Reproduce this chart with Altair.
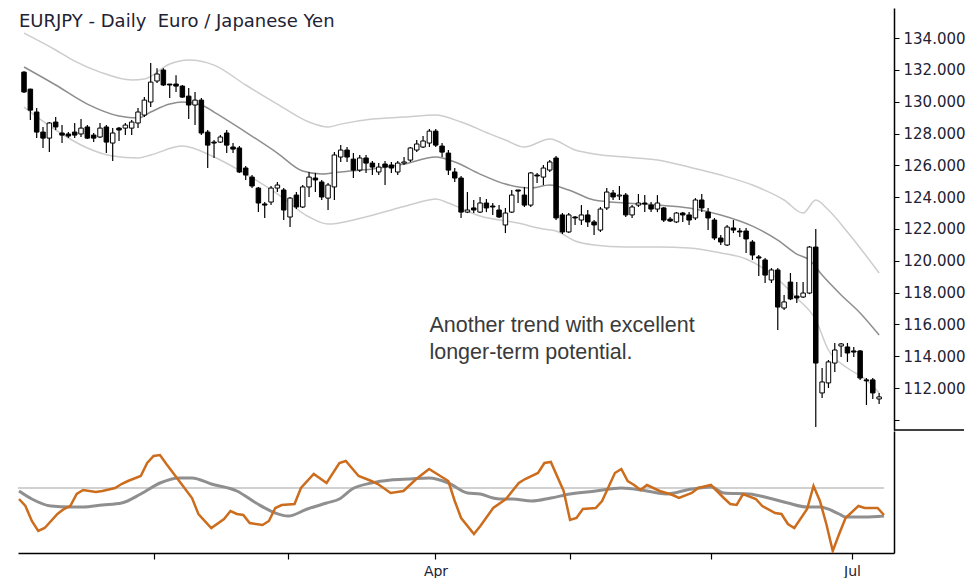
import altair as alt
import pandas as pd

# ---------------- data ----------------
opens = [131.86,130.79,129.35,128.09,127.71,128.72,128.03,127.97,128.09,127.97,
         128.41,127.90,127.78,128.41,127.40,128.34,128.34,128.34,128.66,129.16,
         129.98,131.30,131.99,131.11,131.11,130.98,130.35,129.79,130.10,128.09,
         127.46,127.46,128.03,127.15,127.09,125.83,125.26,124.57,123.57,123.69,
         124.57,124.45,122.75,124.13,123.38,124.64,125.20,124.95,123.94,124.64,
         126.52,126.96,126.39,125.70,126.46,126.14,125.58,126.08,126.02,125.58,
         126.14,126.33,126.96,127.15,127.40,128.15,127.21,126.77,125.58,125.20,
         123.06,123.32,123.06,123.63,123.44,123.19,122.25,123.06,124.45,124.13,
         123.50,125.39,125.26,125.70,126.46,122.88,121.81,122.75,122.56,122.88,
         122.44,121.93,123.32,124.26,124.07,124.13,122.88,123.50,123.63,123.50,
         123.25,123.32,122.62,122.44,123.00,122.88,122.69,123.82,123.06,122.56,
         121.43,120.99,122.06,121.87,121.87,121.18,120.24,120.05,118.79,119.42,
         117.03,118.66,117.78,117.72,117.97,120.86,111.69,112.32,113.57,114.64,
         114.58,114.33,114.33,112.51,112.51,111.31]
highs = [131.92,130.82,129.60,128.41,128.72,129.03,128.53,128.09,128.66,128.91,
         128.53,128.03,128.66,128.53,128.34,128.41,128.66,128.85,129.60,130.29,
         132.43,132.11,132.11,131.11,131.67,131.05,130.86,130.61,130.23,128.22,
         127.59,127.90,128.22,127.40,127.21,125.95,125.39,124.64,123.69,124.70,
         124.95,124.57,124.01,124.32,124.76,125.58,125.52,125.08,124.89,126.83,
         127.27,127.15,126.77,126.65,126.65,126.27,126.14,126.27,126.21,126.27,
         126.52,127.15,127.59,127.84,128.28,128.28,127.40,126.96,125.83,125.33,
         124.32,123.82,124.01,123.88,123.63,123.50,123.32,124.45,124.45,124.64,
         125.58,125.52,126.02,126.33,126.58,123.00,123.00,122.81,123.50,123.19,
         122.56,123.38,124.57,124.45,124.70,124.26,123.50,124.20,124.13,123.69,
         124.13,123.38,122.75,123.06,123.06,123.06,123.94,124.20,123.32,122.69,
         121.62,122.25,122.56,122.06,122.06,121.30,120.36,120.17,119.54,119.54,
         117.85,119.23,118.66,118.66,120.93,121.99,113.26,113.76,114.83,114.83,
         114.83,114.58,114.39,112.63,112.63,111.69]
lows = [130.54,128.85,127.71,127.09,126.83,128.22,127.40,127.71,127.71,127.78,
        127.65,127.46,127.71,126.77,126.27,127.53,127.90,127.90,128.34,129.03,
        129.66,131.17,130.98,130.23,130.61,130.23,128.91,128.53,127.90,125.83,
        126.46,127.40,126.77,126.77,125.52,125.08,124.57,123.06,122.69,123.50,
        124.32,122.56,122.12,123.25,123.32,124.01,124.32,123.82,123.19,123.82,
        126.21,126.21,125.20,125.58,125.52,125.39,125.39,124.76,125.52,125.39,
        126.02,126.21,126.83,127.09,127.15,127.15,126.52,125.39,124.95,122.69,
        123.00,123.00,123.00,123.06,122.88,122.69,121.74,123.00,123.63,123.38,
        123.38,124.89,124.76,125.58,122.56,121.68,121.74,122.25,122.25,122.12,
        121.62,121.81,123.19,123.82,123.82,122.75,122.69,123.38,123.06,123.06,
        123.06,122.44,122.44,122.37,122.44,122.25,122.56,123.06,121.93,121.30,
        120.99,120.93,121.74,121.49,120.49,120.05,119.04,118.60,118.60,115.65,
        116.90,117.53,117.34,117.66,117.90,109.55,111.37,112.00,113.01,113.95,
        113.64,113.95,112.51,110.93,111.31,111.00]
closes = [130.61,129.47,128.09,127.71,128.66,128.41,127.90,127.84,127.90,128.34,
          127.71,127.71,128.34,127.46,128.03,128.22,128.53,128.72,129.35,130.10,
          131.23,131.74,131.05,131.05,130.98,130.29,129.79,130.10,128.03,127.27,
          127.40,127.78,127.27,127.02,125.58,125.39,124.70,123.63,123.50,124.57,
          124.76,123.19,123.94,123.38,124.64,125.26,125.08,124.01,124.76,126.65,
          126.96,126.52,125.70,126.46,126.14,125.89,125.89,125.89,125.83,126.14,
          126.21,127.09,127.34,127.53,128.15,127.27,126.83,125.70,125.20,123.06,
          123.19,123.19,123.63,123.32,123.38,122.75,123.00,124.13,124.38,123.50,
          125.52,125.33,125.83,126.21,122.69,121.81,122.88,122.69,122.88,122.44,
          122.25,123.25,124.32,124.01,124.13,122.88,123.38,123.63,123.57,123.25,
          123.63,122.56,122.50,123.00,122.88,122.56,123.82,123.32,122.69,121.43,
          121.18,122.12,121.93,121.81,121.37,120.36,120.17,119.10,119.42,117.09,
          117.41,117.60,117.66,117.97,120.86,113.57,112.38,113.64,114.39,114.77,
          114.20,114.26,112.63,112.45,111.69,111.44]

# envelope bands (read at sample bars)
mid_idx = [0,5,10,15,18,20,23,25,28,30,35,40,44,47,50,55,60,65,68,72,
           76,80,83,86,90,95,100,105,110,115,119,122,124,126,129,132,135]
mid_val = [132.18,131.05,129.85,129.10,128.97,129.35,129.85,129.98,129.79,129.35,
           128.09,126.77,125.64,125.45,125.58,125.77,126.08,126.52,126.21,125.45,
           124.82,124.57,124.76,124.45,123.82,123.63,123.50,123.32,122.88,122.18,
           121.30,120.42,120.05,119.10,117.85,116.72,115.33]
up_idx = [0,5,8,12,17,19,23,26,30,35,40,45,48,50,55,60,65,69,74,76,79,
          83,87,90,95,100,105,110,115,120,123,125,127,130,135]
up_val = [134.31,133.25,132.55,131.86,131.36,131.42,132.37,132.62,132.30,131.05,
          129.85,128.72,128.41,128.59,128.91,129.03,129.16,128.72,127.90,127.59,127.15,
          127.65,126.96,126.71,126.52,126.33,125.89,125.39,124.76,123.82,123.00,
          123.82,123.19,121.81,119.23]
lo_idx = [0,5,10,14,18,20,25,30,35,40,45,48,52,58,62,65,67,72,78,82,
          84,87,90,95,100,105,110,114,118,122,125,127,130,133,135]
lo_val = [129.66,128.22,127.09,126.58,126.46,126.65,127.21,126.52,125.45,124.20,
          122.75,122.31,122.56,123.19,123.63,123.88,123.63,122.81,122.37,121.99,
          121.87,121.24,120.99,120.86,120.86,120.80,120.49,120.11,119.17,117.66,
          116.28,114.39,113.26,112.51,111.69]

# oscillator (orange) and its signal (gray)
osc_idx = [0,1,2,3,4,6,7,8,9,10,12,13,15,16,17,19,20,21,22,23,
           25,27,28,30,32,33,34,35,36,38,39,40,41,43,44,46,48,50,51,53,
           55,56,58,60,62,64,65,67,68,69,71,72,74,76,78,79,81,82,83,85,
           86,87,88,90,91,93,94,95,96,97,98,100,102,103,105,106,108,110,111,112,
           113,115,116,118,119,120,121,123,124,125,126,127,128,129,131,132,134,135]
osc_val = [-1.1,-1.8,-3.3,-4.3,-4.0,-2.6,-2.1,-1.8,-0.6,-0.2,-0.4,-0.3,0.0,0.4,0.7,1.2,2.5,3.2,3.3,2.4,
           0.7,-1.0,-2.6,-4.0,-3.1,-2.3,-2.6,-2.7,-3.5,-3.7,-3.3,-2.0,-1.7,-1.6,0.0,1.4,0.5,2.5,2.7,1.2,
           0.7,0.4,-0.5,-0.3,0.9,1.9,1.5,0.7,-1.3,-3.0,-4.6,-3.8,-2.0,-1.1,0.5,0.9,1.5,2.5,2.6,-0.3,
           -3.2,-3.0,-2.1,-2.0,-1.3,1.5,1.9,0.7,0.3,-0.2,0.3,-0.3,-0.7,-1.0,-0.5,0.0,0.3,-1.0,-1.6,-1.7,
           -0.6,-1.1,-1.8,-2.5,-2.6,-3.6,-4.0,-2.1,0.2,-1.3,-3.6,-6.3,-4.6,-3.0,-1.8,-2.0,-2.0,-2.7]
sig_idx = [0,2,5,8,10,13,16,19,22,25,27,30,34,37,40,42,45,48,50,52,
           55,58,61,64,67,70,72,74,75,77,80,83,86,90,94,98,101,105,108,110,
           114,117,120,123,125,128,129,132,135]
sig_val = [-0.3,-1.1,-1.8,-1.9,-1.9,-1.7,-1.5,-0.6,0.5,1.0,1.0,0.4,-0.3,-1.5,-2.5,-2.8,-2.1,-1.5,-1.1,-0.1,
           0.5,0.8,0.9,1.0,0.5,-0.5,-0.6,-1.0,-1.1,-1.1,-1.3,-1.0,-0.6,-0.3,0.0,-0.3,-0.6,-0.1,0.1,-0.5,
           -0.6,-1.0,-1.5,-1.9,-1.9,-2.6,-2.9,-2.9,-2.8]
osc_ref = 0.0

month_ticks = [21, 42, 65, 86, 108, 130]
month_labels = ["", "", "Apr", "", "", "Jul"]
price_ticks = [110,112,114,116,118,120,122,124,126,128,130,132,134]

title_text = "EURJPY - Daily\u00a0 Euro / Japanese Yen"
note_lines = ["Another trend with excellent", "longer-term potential."]
note_at = (64.0, 115.52)

# ---------------- tables ----------------
n = len(opens)
candles = pd.DataFrame({"idx": list(range(n)), "open": opens, "high": highs,
                        "low": lows, "close": closes})
mid_df = pd.DataFrame({"idx": mid_idx, "val": mid_val})
up_df = pd.DataFrame({"idx": up_idx, "val": up_val})
lo_df = pd.DataFrame({"idx": lo_idx, "val": lo_val})
osc_df = pd.DataFrame({"idx": osc_idx, "val": osc_val})
sig_df = pd.DataFrame({"idx": sig_idx, "val": sig_val})

W, H1, H2 = 876, 422, 122
xscale = alt.Scale(domain=[-0.16, 136.56], nice=False, zero=False)
pscale = alt.Scale(domain=[109.36, 135.89], nice=False, zero=False)
oscale = alt.Scale(domain=[-6.5, 5.7], nice=False, zero=False)

FONT = "DejaVu Sans"
lab_expr = " : ".join([f"datum.value == {v} ? '{l}'" for v, l in zip(month_ticks, month_labels)]) + " : ''"

price_axis = alt.Axis(orient="right", values=price_ticks, title=None, grid=False,
                      labelExpr="datum.value == 110 ? '' : format(datum.value, '.3f')",
                      domainColor="black", domainWidth=1.5, tickColor="black",
                      tickSize=5, tickWidth=1, labelPadding=4, labelFont=FONT,
                      labelFontSize=15, labelColor="#222233", labelOverlap=False)

X0 = alt.X("idx:Q", scale=xscale, axis=None)

def PY(field):
    return alt.Y(field, scale=pscale, axis=price_axis)

upper = alt.Chart(up_df).mark_line(color="#cdcdcd", strokeWidth=1.5, interpolate="monotone", clip=True).encode(
    x=X0, y=PY("val:Q"))
lower = alt.Chart(lo_df).mark_line(color="#cdcdcd", strokeWidth=1.5, interpolate="monotone", clip=True).encode(
    x=X0, y=PY("val:Q"))
middle = alt.Chart(mid_df).mark_line(color="#8e8e8e", strokeWidth=1.5, interpolate="monotone", clip=True).encode(
    x=X0, y=PY("val:Q"))

wicks = alt.Chart(candles).mark_rule(color="black", strokeWidth=1.2).encode(
    x=X0, y=PY("low:Q"), y2="high:Q")
bodies = alt.Chart(candles).mark_bar(size=4.5, stroke="black", strokeWidth=1).encode(
    x=X0, y=PY("open:Q"), y2="close:Q",
    fill=alt.condition("datum.close > datum.open", alt.value("white"), alt.value("black")))

note = alt.Chart(pd.DataFrame({"idx": [note_at[0]], "p": [note_at[1]]})).mark_text(
    align="left", baseline="alphabetic", font="Liberation Sans", fontSize=21.5,
    lineHeight=27, color="#3a3a3a", text=note_lines).encode(
    x=X0, y=PY("p:Q"))

title_mark = alt.Chart(pd.DataFrame({"t": [title_text]})).mark_text(
    align="left", baseline="alphabetic", font=FONT, fontSize=18, color="#222233").encode(
    text="t:N", x=alt.value(1), y=alt.value(19))

sep = alt.Chart(pd.DataFrame({"a": [0]})).mark_rule(color="black", strokeWidth=1.5).encode(
    x=alt.value(W), x2=alt.value(W + 70), y=alt.value(H1))

top = alt.layer(upper, lower, middle, wicks, bodies, note, title_mark, sep).properties(width=W, height=H1)

# ---------------- oscillator panel ----------------
x_axis = alt.Axis(values=month_ticks, labelExpr=lab_expr, title=None, grid=False,
                  domainColor="black", domainWidth=1.5, tickColor="black", tickSize=6,
                  tickWidth=1.2, labelPadding=5, labelFont=FONT, labelFontSize=14,
                  labelColor="#222233", labelOverlap=False)
osc_axis = alt.Axis(orient="right", labels=False, ticks=False, title=None, grid=False,
                    domainColor="black", domainWidth=1.5)

def OX(field):
    return alt.X(field, scale=xscale, axis=x_axis)

def OY(field):
    return alt.Y(field, scale=oscale, axis=osc_axis)

ref = alt.Chart(pd.DataFrame({"x0": [-0.16], "x1": [135.0], "v": [osc_ref]})).mark_rule(
    color="#c2c2c2", strokeWidth=1.5).encode(x=OX("x0:Q"), x2="x1:Q", y=OY("v:Q"))
sig = alt.Chart(sig_df).mark_line(color="#8f8f8f", strokeWidth=3, interpolate="monotone", clip=True).encode(
    x=OX("idx:Q"), y=OY("val:Q"))
osc = alt.Chart(osc_df).mark_line(color="#cc6d1e", strokeWidth=2.5, clip=True).encode(
    x=OX("idx:Q"), y=OY("val:Q"))

bottom = alt.layer(ref, sig, osc).properties(width=W, height=H2)

chart = alt.vconcat(top, bottom, spacing=0).properties(
    padding={"left": 9, "top": 0, "right": 0, "bottom": 0}
).configure(background="white").configure_view(stroke=None)

chart.save("out.html", embed_options={"renderer": "svg", "actions": False})
